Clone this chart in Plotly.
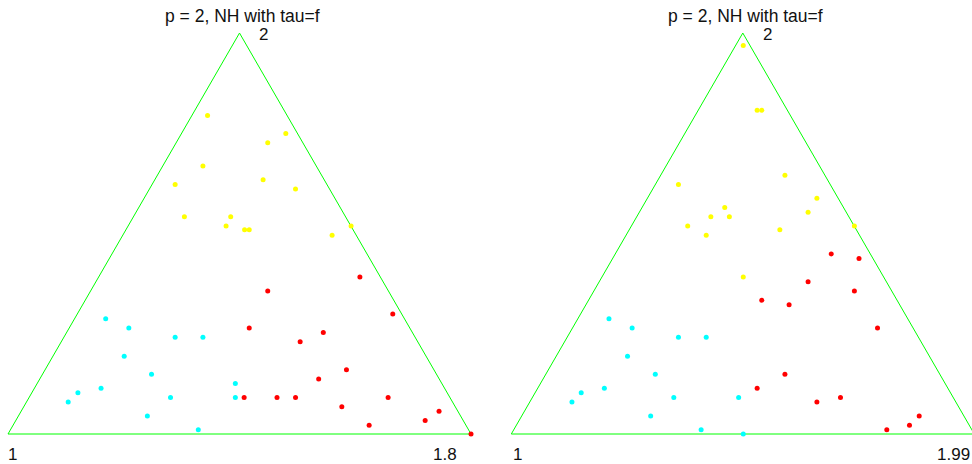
import plotly.graph_objects as go

# ---- data (triangle coordinates: base 0..1, apex at (0.5, 0.866)) ----
title_text = "p = 2, NH with tau=f"
left_corner_labels = ["1", "1.8", "2"]
right_corner_labels = ["1", "1.99", "2"]

tri_x = [0, 1, 0.5, 0]
tri_y = [0, 0, 0.866, 0]

# left panel
L_yellow_x = [0.431, 0.600, 0.561, 0.421, 0.551, 0.361, 0.621, 0.381, 0.481, 0.471, 0.511, 0.521, 0.741, 0.700]
L_yellow_y = [0.688, 0.649, 0.629, 0.579, 0.549, 0.539, 0.529, 0.469, 0.469, 0.449, 0.441, 0.441, 0.449, 0.429]
L_red_x = [0.760, 0.561, 0.831, 0.521, 0.681, 0.631, 0.731, 0.671, 0.510, 0.581, 0.621, 0.821, 0.721, 0.931, 0.901, 0.780, 1.000]
L_red_y = [0.339, 0.309, 0.259, 0.229, 0.219, 0.199, 0.139, 0.119, 0.079, 0.079, 0.079, 0.079, 0.059, 0.049, 0.029, 0.019, 0.000]
L_cyan_x = [0.211, 0.261, 0.361, 0.421, 0.251, 0.310, 0.491, 0.201, 0.151, 0.130, 0.351, 0.491, 0.301, 0.411]
L_cyan_y = [0.249, 0.229, 0.209, 0.209, 0.168, 0.129, 0.109, 0.099, 0.089, 0.069, 0.079, 0.079, 0.039, 0.009]

# right panel
R_yellow_x = [0.501, 0.531, 0.541, 0.591, 0.361, 0.660, 0.461, 0.641, 0.431, 0.471, 0.381, 0.741, 0.580, 0.421, 0.501]
R_yellow_y = [0.839, 0.699, 0.699, 0.559, 0.539, 0.509, 0.489, 0.479, 0.469, 0.469, 0.449, 0.449, 0.441, 0.429, 0.339]
R_red_x = [0.691, 0.751, 0.641, 0.741, 0.541, 0.600, 0.791, 0.591, 0.531, 0.711, 0.660, 0.881, 0.860, 0.811]
R_red_y = [0.389, 0.379, 0.329, 0.309, 0.289, 0.279, 0.229, 0.129, 0.099, 0.079, 0.069, 0.039, 0.019, 0.009]
R_cyan_x = [0.211, 0.261, 0.361, 0.421, 0.251, 0.311, 0.201, 0.151, 0.131, 0.351, 0.491, 0.301, 0.410, 0.501]
R_cyan_y = [0.249, 0.229, 0.209, 0.209, 0.168, 0.129, 0.099, 0.089, 0.069, 0.079, 0.079, 0.039, 0.009, 0.000]

# ---- layout geometry (pixels) ----
W, H = 972, 464
S = 463.0              # pixels per data unit
BASE_Y = 434.0         # pixel row of triangle base
L_X0 = 8.0             # pixel col of left triangle's left vertex
R_X0 = 511.3           # pixel col of right triangle's left vertex
YR = [-0.05, 0.9]

def ydom():
    top_px = BASE_Y - YR[1] * S
    bot_px = BASE_Y - YR[0] * S
    return [(H - bot_px) / H, (H - top_px) / H]

fig = go.Figure()
green = "#00ff00"

def add_panel(xa, ya, yx, yy, rx, ry, cx, cy):
    fig.add_trace(go.Scatter(x=tri_x, y=tri_y, mode="lines", line=dict(color=green, width=1),
                             xaxis=xa, yaxis=ya, showlegend=False, hoverinfo="skip"))
    for xs, ys, col in [(yx, yy, "#ffff00"), (rx, ry, "#ff0000"), (cx, cy, "#00ffff")]:
        fig.add_trace(go.Scatter(x=xs, y=ys, mode="markers", marker=dict(color=col, size=5),
                                 cliponaxis=False, xaxis=xa, yaxis=ya, showlegend=False))

add_panel("x", "y", L_yellow_x, L_yellow_y, L_red_x, L_red_y, L_cyan_x, L_cyan_y)
add_panel("x2", "y2", R_yellow_x, R_yellow_y, R_red_x, R_red_y, R_cyan_x, R_cyan_y)

# left x axis
LXR = [-0.01, 1.01]
lxd = [(L_X0 + LXR[0] * S) / W, (L_X0 + LXR[1] * S) / W]
# right x axis (clipped at right edge of window)
RXR = [-0.02, (W - R_X0) / S]
rxd = [(R_X0 + RXR[0] * S) / W, 1.0]

ax_common = dict(visible=False, showgrid=False, zeroline=False, fixedrange=True)
fig.update_layout(
    width=W, height=H,
    margin=dict(l=0, r=0, t=0, b=0),
    paper_bgcolor="white", plot_bgcolor="white",
    xaxis=dict(domain=lxd, range=LXR, **ax_common),
    yaxis=dict(domain=ydom(), range=YR, **ax_common),
    xaxis2=dict(domain=rxd, range=RXR, anchor="y2", **ax_common),
    yaxis2=dict(domain=ydom(), range=YR, anchor="x2", **ax_common),
    font=dict(family="Liberation Sans, Arial, sans-serif", color="black"),
)

font = dict(family="Liberation Sans, Arial, sans-serif", size=17, color="#111111")
def ann(px, py, text, size=17):
    fig.add_annotation(x=px / W, y=(H - py) / H, xref="paper", yref="paper", text=text,
                       showarrow=False, xanchor="center", yanchor="middle",
                       font=dict(font, size=size))

ann(242.5, 16, title_text, 17.5)
ann(745.5, 16, title_text, 17.5)
ann(12, 454, left_corner_labels[0])
ann(445, 454, left_corner_labels[1])
ann(263, 34, left_corner_labels[2])
ann(517, 454, right_corner_labels[0])
ann(953, 454, right_corner_labels[1])
ann(767, 34, right_corner_labels[2])

fig.write_html("out.html")
